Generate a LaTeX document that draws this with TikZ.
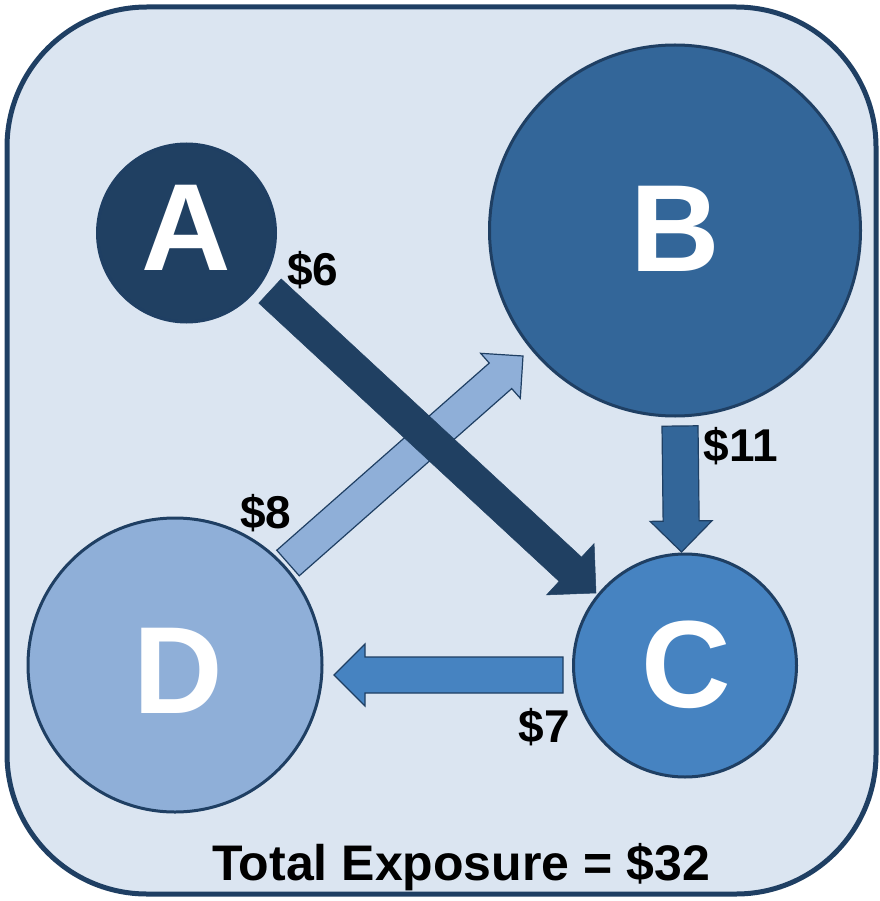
\documentclass[tikz,border=0pt]{standalone}
\usepackage{fontspec}
\setmainfont{Liberation Sans}
\usetikzlibrary{calc}

\definecolor{edgeblue}{RGB}{31,63,99}
\definecolor{panelblue}{RGB}{219,229,241}
\definecolor{darkblue}{RGB}{32,64,98}
\definecolor{midblue}{RGB}{51,102,153}
\definecolor{brightblue}{RGB}{70,131,193}
\definecolor{paleblue}{RGB}{143,175,216}

% block arrow: #1 style, #2 tail, #3 tip, #4 half shaft, #5 half head (= head length)
\newcommand{\blockarrow}[5]{%
    \coordinate (neck) at ($(#3)!#5!(#2)$);
    \filldraw[#1] ($(#2)!#4!90:(#3)$) -- ($(neck)!#4!90:(#3)$) -- ($(neck)!#5!90:(#3)$)
        -- (#3) -- ($(neck)!#5!-90:(#3)$) -- ($(neck)!#4!-90:(#3)$) -- ($(#2)!#4!-90:(#3)$) -- cycle;
}

\begin{document}
\begin{tikzpicture}
[   x=1pt,y=-1pt,
    cnode/.style={draw=edgeblue,fill=#1,line width=3pt,circle,inner sep=0pt,
        text=white,font=\fontsize{124}{124}\selectfont\bfseries},
    amount/.style={anchor=base,font=\fontsize{46}{46}\selectfont\bfseries},
    flow/.style={fill=#1,draw=edgeblue,line width=1.2pt,line join=miter},
]
    \useasboundingbox (0,0) rectangle (879,901);
    \draw[edgeblue,fill=panelblue,line width=5pt,rounded corners=140pt] (7,7) rectangle (876,894);

    \node[cnode=darkblue,minimum size=178pt] (A) at (186.5,233) {};
    \node[cnode=midblue,minimum size=371pt] (B) at (675,230.5) {};
    \node[cnode=brightblue,minimum size=223pt] (C) at (685,665.5) {};
    \node[cnode=paleblue,minimum size=294pt] (D) at (175,665) {};
    \foreach \n/\x/\y in {A/186.5/270,B/675.5/271,C/686/707,D/178/713}
    {   \node[anchor=base,text=white,font=\fontsize{124}{124}\selectfont\bfseries] (\n-name) at (\x,\y) {\n};
    }

    % ends of the flows
    \coordinate (ac-s) at (270,291);
    \coordinate (ac-e) at (596,593);
    \coordinate (db-s) at (288,563);
    \coordinate (db-e) at (523,356);
    \coordinate (bc-s) at (680,426);
    \coordinate (bc-e) at (681.5,552);
    \coordinate (cd-s) at (563,675);
    \coordinate (cd-e) at (334,675);

    \blockarrow{flow=paleblue}{db-s}{db-e}{17pt}{30pt}
    \blockarrow{flow=darkblue,draw=darkblue,line width=0.5pt}{ac-s}{ac-e}{16.5pt}{35pt}
    \blockarrow{flow=midblue}{bc-s}{bc-e}{18pt}{31pt}
    \blockarrow{flow=brightblue}{cd-s}{cd-e}{18pt}{31pt}

    \node[amount] (ac-amt) at (313,285) {\$6};
    \node[amount] (bc-amt) at (741,461) {\$11};
    \node[amount] (db-amt) at (266,528) {\$8};
    \node[amount] (cd-amt) at (544,742) {\$7};
    \node[anchor=base,font=\fontsize{50}{50}\selectfont\bfseries] (total) at (461,880) {Total Exposure = \$32};
\end{tikzpicture}
\end{document}
